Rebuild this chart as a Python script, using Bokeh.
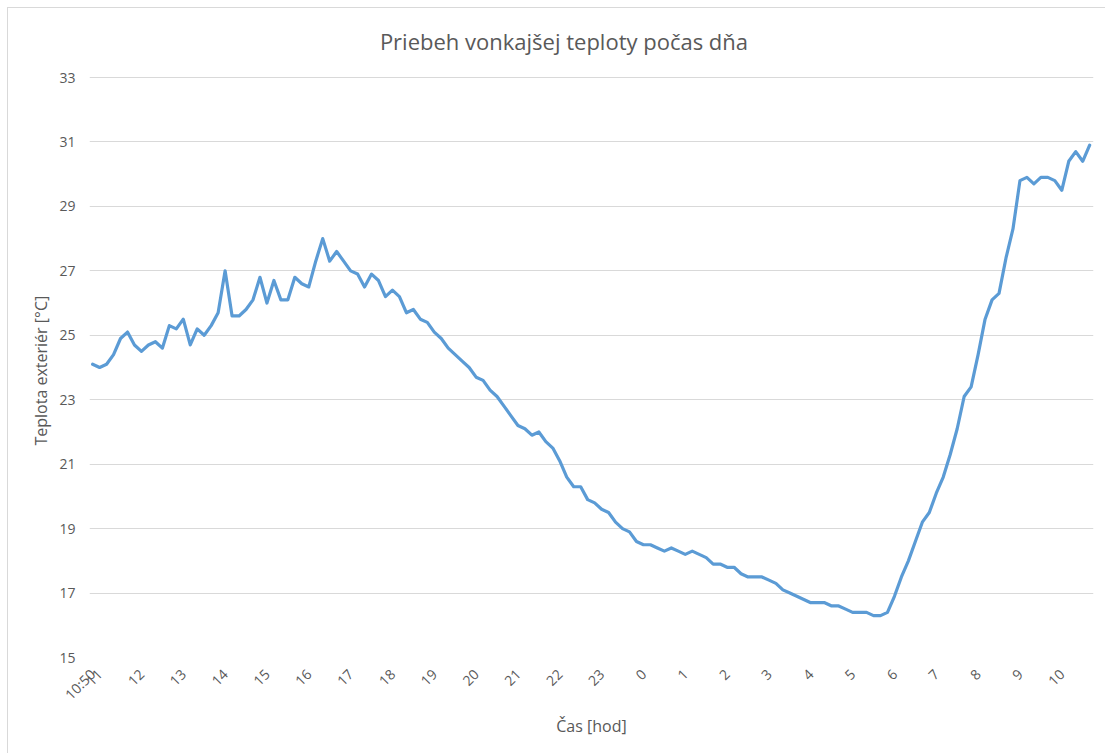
import math
from bokeh.plotting import figure
from bokeh.models import FixedTicker, Range1d, Label, Title
from bokeh.embed import file_html
from bokeh.resources import INLINE

# Temperature every 10 minutes starting at 10:50
temps = [
    24.1, 24.0, 24.1, 24.4, 24.9, 25.1, 24.7, 24.5, 24.7, 24.8,
    24.6, 25.3, 25.2, 25.5, 24.7, 25.2, 25.0, 25.3, 25.7, 27.0,
    25.6, 25.6, 25.8, 26.1, 26.8, 26.0, 26.7, 26.1, 26.1, 26.8,
    26.6, 26.5, 27.3, 28.0, 27.3, 27.6, 27.3, 27.0, 26.9, 26.5,
    26.9, 26.7, 26.2, 26.4, 26.2, 25.7, 25.8, 25.5, 25.4, 25.1,
    24.9, 24.6, 24.4, 24.2, 24.0, 23.7, 23.6, 23.3, 23.1, 22.8,
    22.5, 22.2, 22.1, 21.9, 22.0, 21.7, 21.5, 21.1, 20.6, 20.3,
    20.3, 19.9, 19.8, 19.6, 19.5, 19.2, 19.0, 18.9, 18.6, 18.5,
    18.5, 18.4, 18.3, 18.4, 18.3, 18.2, 18.3, 18.2, 18.1, 17.9,
    17.9, 17.8, 17.8, 17.6, 17.5, 17.5, 17.5, 17.4, 17.3, 17.1,
    17.0, 16.9, 16.8, 16.7, 16.7, 16.7, 16.6, 16.6, 16.5, 16.4,
    16.4, 16.4, 16.3, 16.3, 16.4, 16.9, 17.5, 18.0, 18.6, 19.2,
    19.5, 20.1, 20.6, 21.3, 22.1, 23.1, 23.4, 24.4, 25.5, 26.1,
    26.3, 27.4, 28.3, 29.8, 29.9, 29.7, 29.9, 29.9, 29.8, 29.5,
    30.4, 30.7, 30.4, 30.9,
]
first_label = "10:50"
hour_labels = ["11", "12", "13", "14", "15", "16", "17", "18", "19", "20",
               "21", "22", "23", "0", "1", "2", "3", "4", "5", "6",
               "7", "8", "9", "10"]
y_ticks = [15, 17, 19, 21, 23, 25, 27, 29, 31, 33]
title_text = "Priebeh vonkajšej teploty počas dňa"
x_title = "Čas [hod]"
y_title = "Teplota exteriér [°C]"

n = len(temps)
idx = list(range(n))
tick_idx = [0] + [1 + 6 * k for k in range(len(hour_labels))]
overrides = {0: first_label}
for k, lab in enumerate(hour_labels):
    overrides[1 + 6 * k] = lab

TXT = "#595959"
FONT = "Open Sans"

# the plot frame reaches the top of the chart so that the title can sit inside it;
# the y range is stretched above 33 accordingly (no gridline/tick there)
p = figure(width=1097, height=745, output_backend="svg", toolbar_location=None,
           title=None,
           x_range=Range1d(-0.45, n - 0.45), y_range=Range1d(15, 35.142),
           min_border_left=81, min_border_right=12, min_border_top=0,
           min_border_bottom=96)
p.margin = (8, 0, 0, 8)
p.styles = {"outline": "1px solid #d9d9d9"}
p.outline_line_color = None
p.background_fill_color = "white"
p.border_fill_color = "white"

p.line(idx, temps, line_color="#5B9BD5", line_width=3.2, line_join="round", line_cap="round")

p.add_layout(Label(x=67.6, y=34.118, x_units="data", y_units="data", text=title_text,
                   text_align="center", text_baseline="middle", text_font=FONT,
                   text_font_size="22px", text_color=TXT))

p.xgrid.visible = False
p.ygrid.ticker = FixedTicker(ticks=y_ticks)
p.ygrid.grid_line_color = "#D9D9D9"
p.ygrid.grid_line_width = 1

xa = p.xaxis[0]
xa.ticker = FixedTicker(ticks=tick_idx)
xa.major_label_overrides = overrides
xa.major_label_orientation = math.pi / 4
xa.axis_line_color = None
xa.major_tick_line_color = None
xa.minor_tick_line_color = None
xa.major_label_text_color = TXT
xa.major_label_text_font = FONT
xa.major_label_text_font_size = "14px"
xa.major_label_standoff = 8
xa.axis_label = x_title
xa.axis_label_text_font = FONT
xa.axis_label_text_font_size = "16px"
xa.axis_label_text_font_style = "normal"
xa.axis_label_text_color = TXT
xa.axis_label_standoff = 2

ya = p.yaxis[0]
ya.ticker = FixedTicker(ticks=y_ticks)
ya.axis_line_color = None
ya.major_tick_line_color = None
ya.minor_tick_line_color = None
ya.major_label_text_color = TXT
ya.major_label_text_font = FONT
ya.major_label_text_font_size = "14px"
ya.major_label_standoff = 8

# y-axis title, centred on the 15..33 span (not on the stretched frame)
p.add_layout(Title(text=y_title, align="left", offset=212, standoff=10,
                   text_font=FONT, text_font_size="16px", text_font_style="normal",
                   text_color=TXT), "left")

open("out.html", "w").write(file_html(p, INLINE))
